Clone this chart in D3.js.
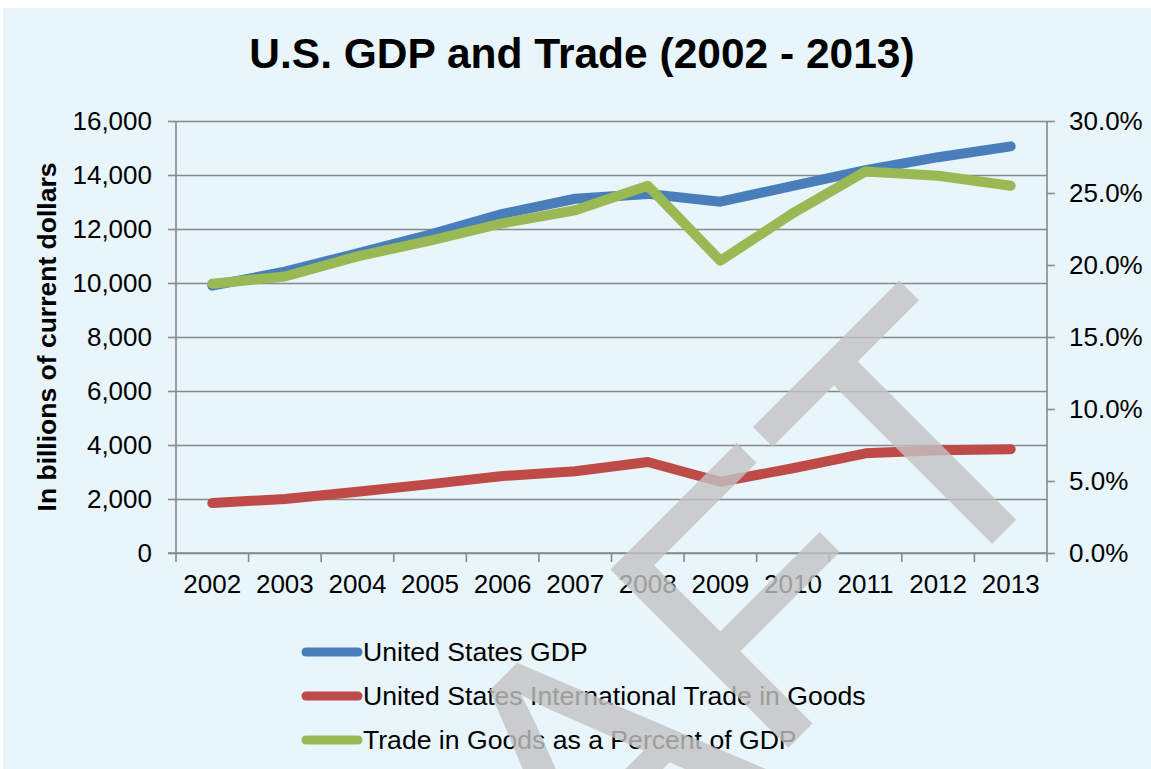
<!DOCTYPE html>
<meta charset="utf-8">
<script src="https://d3js.org/d3.v7.min.js"></script>
<style>
  body { margin: 0; background: #ffffff; }
  svg { display: block; font-family: "Liberation Sans", Arial, sans-serif; }
</style>
<div id="chart"></div>
<script>

// data
var years = ["2002","2003","2004","2005","2006","2007","2008","2009","2010","2011","2012","2013"];
var gdp = [9900, 10420, 11100, 11790, 12560, 13120, 13300, 13010, 13600, 14180, 14660, 15060];
var trade = [1850, 2000, 2270, 2550, 2850, 3030, 3370, 2640, 3140, 3690, 3810, 3840];
var pct = [18.7, 19.2, 20.6, 21.7, 22.9, 23.8, 25.5, 20.3, 23.6, 26.5, 26.2, 25.5];
var leftTicks = [0, 2000, 4000, 6000, 8000, 10000, 12000, 14000, 16000];
var rightTicks = [0, 5, 10, 15, 20, 25, 30];
var seriesNames = ["United States GDP", "United States International Trade in Goods", "Trade in Goods as a Percent of GDP"];
var seriesColors = ["#4a7ebb", "#be4b48", "#98b954"];

var W = 1151, H = 769;
var margin = {top: 121, right: 104, bottom: 216, left: 176};
var width = W - margin.left - margin.right,
    height = H - margin.top - margin.bottom;

var root = d3.select("#chart")
  .append("svg")
    .attr("width", W)
    .attr("height", H);

// background panel
root.append("rect")
  .attr("x", 3).attr("y", 8)
  .attr("width", W - 3).attr("height", H - 8)
  .attr("fill", "#e8f5fa");

// title
root.append("text")
  .attr("x", 582)
  .attr("y", 68)
  .attr("text-anchor", "middle")
  .style("font-size", "42.5px")
  .style("font-weight", "bold")
  .text("U.S. GDP and Trade (2002 - 2013)");

var svg = root.append("g")
  .attr("transform", "translate(" + margin.left + "," + margin.top + ")");

var x = d3.scaleBand().domain(years).range([0, width]);
var y = d3.scaleLinear().domain([0, 16000]).range([height, 0]);
var y2 = d3.scaleLinear().domain([0, 30]).range([height, 0]);

var gridColor = "#888888";

// gridlines
svg.append("g")
  .call(d3.axisLeft(y).tickValues(leftTicks).tickSize(-width).tickFormat(""))
  .call(function(g) { g.select(".domain").remove(); })
  .selectAll("line")
    .attr("stroke", gridColor)
    .attr("stroke-width", 1.6);

// left axis
var yAxis = svg.append("g")
  .call(d3.axisLeft(y).tickValues(leftTicks).tickSize(8).tickPadding(16).tickFormat(d3.format(",")));
yAxis.select(".domain").attr("stroke", gridColor).attr("stroke-width", 1.6).attr("d", "M0," + height + "V0");
yAxis.selectAll(".tick line").attr("stroke", gridColor).attr("stroke-width", 1.6);
yAxis.selectAll("text").style("font-size", "26px").attr("fill", "#000");

// right axis
var y2Axis = svg.append("g")
  .attr("transform", "translate(" + width + ",0)")
  .call(d3.axisRight(y2).tickValues(rightTicks).tickSize(8).tickPadding(14)
    .tickFormat(function(d) { return d3.format(".1f")(d) + "%"; }));
y2Axis.select(".domain").attr("stroke", gridColor).attr("stroke-width", 1.6).attr("d", "M0," + height + "V0");
y2Axis.selectAll(".tick line").attr("stroke", gridColor).attr("stroke-width", 1.6);
y2Axis.selectAll("text").style("font-size", "26px").attr("fill", "#000");

// x axis: labels at band centres, ticks at band edges
var xAxis = svg.append("g")
  .attr("transform", "translate(0," + height + ")")
  .call(d3.axisBottom(x).tickSize(0).tickPadding(22));
xAxis.select(".domain").attr("stroke", gridColor).attr("stroke-width", 1.6).attr("d", "M-8,0H" + width);
xAxis.selectAll("text").style("font-size", "26px").attr("fill", "#000");
svg.append("g")
  .attr("transform", "translate(0," + height + ")")
  .selectAll("line")
  .data(years.concat(["end"]))
  .enter()
  .append("line")
    .attr("x1", function(d, i) { return i * x.step(); })
    .attr("x2", function(d, i) { return i * x.step(); })
    .attr("y1", 0).attr("y2", 9)
    .attr("stroke", gridColor)
    .attr("stroke-width", 1.6);

// lines
var cx = function(i) { return x(years[i]) + x.bandwidth() / 2; };
var lineLeft = d3.line().x(function(d, i) { return cx(i); }).y(function(d) { return y(d); });
var lineRight = d3.line().x(function(d, i) { return cx(i); }).y(function(d) { return y2(d); });

[[gdp, lineLeft], [trade, lineLeft], [pct, lineRight]].forEach(function(s, k) {
  svg.append("path")
    .datum(s[0])
    .attr("d", s[1])
    .attr("fill", "none")
    .attr("stroke", seriesColors[k])
    .attr("stroke-width", 10)
    .attr("stroke-linecap", "round")
    .attr("stroke-linejoin", "round");
});

// legend
var legend = root.append("g")
  .selectAll("g")
  .data(seriesNames)
  .enter()
  .append("g")
    .attr("transform", function(d, i) { return "translate(0," + (652 + i * 44) + ")"; });
legend.append("line")
  .attr("x1", 306).attr("x2", 358)
  .attr("y1", 0).attr("y2", 0)
  .attr("stroke", function(d, i) { return seriesColors[i]; })
  .attr("stroke-width", 9)
  .attr("stroke-linecap", "round");
legend.append("text")
  .attr("x", 363)
  .attr("y", 9)
  .style("font-size", "26.6px")
  .text(function(d) { return d; });

// y axis title
root.append("text")
  .attr("transform", "translate(56,337) rotate(-90)")
  .attr("text-anchor", "middle")
  .style("font-size", "26.5px")
  .style("font-weight", "bold")
  .text("In billions of current dollars");

// DRAFT watermark on top
root.append("text")
  .attr("transform", "translate(652,884) rotate(-45)")
  .attr("text-anchor", "middle")
  .style("font-size", "366px")
  .attr("fill", "#c3c3c3")
  .attr("opacity", 0.8)
  .text("DRAFT");
</script>
